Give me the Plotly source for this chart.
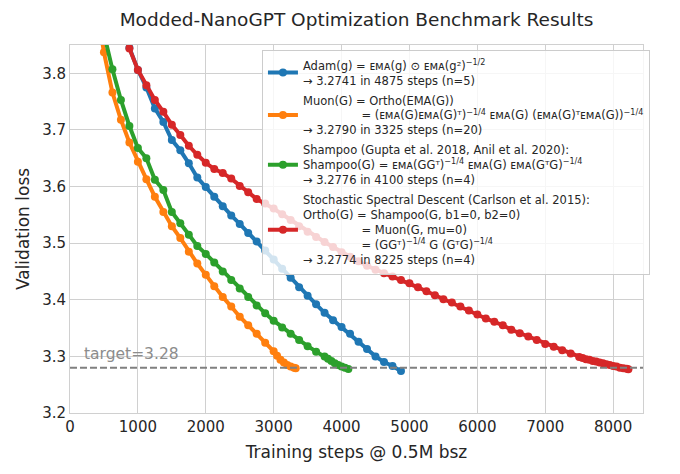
import plotly.graph_objects as go

# eval points (steps, val loss)
adam_steps = [750, 875, 1000, 1125, 1250, 1375, 1500, 1625, 1750, 1875, 2000, 2125, 2250, 2375,
              2500, 2625, 2750, 2875, 3000, 3125, 3250, 3375, 3500, 3625, 3750, 3875, 4000, 4125,
              4250, 4375, 4500, 4625, 4750, 4875]
adam_loss = [3.900, 3.845, 3.806, 3.775, 3.738, 3.714, 3.682, 3.664, 3.641, 3.616, 3.599, 3.582, 3.565, 3.549,
             3.534, 3.518, 3.503, 3.487, 3.471, 3.455, 3.439, 3.422, 3.407, 3.392, 3.377, 3.364, 3.352, 3.340,
             3.326, 3.313, 3.300, 3.290, 3.283, 3.274]

muon_steps = [375, 500, 625, 750, 875, 1000, 1125, 1250, 1375, 1500, 1625, 1750, 1875, 2000,
              2125, 2250, 2375, 2500, 2625, 2750, 2875, 3000, 3050, 3100, 3150, 3200, 3250, 3300, 3325]
muon_loss = [3.930, 3.837, 3.766, 3.718, 3.678, 3.644, 3.613, 3.582, 3.555, 3.530, 3.509, 3.485, 3.464, 3.444,
             3.424, 3.405, 3.388, 3.370, 3.355, 3.340, 3.324, 3.309, 3.301, 3.294, 3.289, 3.285, 3.282, 3.280, 3.279]

shampoo_steps = [500, 625, 750, 875, 1000, 1125, 1250, 1375, 1500, 1625, 1750, 1875, 2000, 2125,
                 2250, 2375, 2500, 2625, 2750, 2875, 3000, 3125, 3250, 3375, 3500, 3625, 3750,
                 3800, 3850, 3900, 3950, 4000, 4050, 4100]
shampoo_loss = [3.870, 3.807, 3.753, 3.707, 3.668, 3.650, 3.612, 3.594, 3.555, 3.535, 3.515, 3.495, 3.481, 3.466,
                3.450, 3.435, 3.420, 3.405, 3.390, 3.376, 3.363, 3.351, 3.340, 3.329, 3.318, 3.308, 3.300,
                3.296, 3.292, 3.288, 3.285, 3.282, 3.280, 3.2776]

ssd_steps = [750, 875, 1000, 1125, 1250, 1375, 1500, 1625, 1750, 1875, 2000, 2125, 2250, 2375, 2500,
             2625, 2750, 2875, 3000, 3125, 3250, 3375, 3500, 3625, 3750, 3875, 4000, 4125, 4250,
             4375, 4500, 4625, 4750, 4875, 5000, 5125, 5250, 5375, 5500, 5625, 5750, 5875, 6000,
             6125, 6250, 6375, 6500, 6625, 6750, 6875, 7000, 7125, 7250, 7375, 7500,
             7550, 7600, 7650, 7700, 7750, 7800, 7850, 7900, 7950, 8000, 8050, 8100, 8150, 8200, 8225]
ssd_loss = [3.890, 3.844, 3.806, 3.779, 3.753, 3.732, 3.709, 3.691, 3.672, 3.656, 3.642, 3.631, 3.624, 3.614, 3.601,
            3.590, 3.578, 3.570, 3.561, 3.551, 3.541, 3.530, 3.520, 3.511, 3.502, 3.493, 3.484, 3.476, 3.468,
            3.460, 3.453, 3.447, 3.441, 3.435, 3.429, 3.422, 3.415, 3.408, 3.401, 3.395, 3.388, 3.381, 3.374,
            3.367, 3.361, 3.355, 3.347, 3.341, 3.335, 3.329, 3.322, 3.317, 3.311, 3.305, 3.299,
            3.297, 3.295, 3.294, 3.292, 3.291, 3.289, 3.288, 3.286, 3.285, 3.283, 3.282, 3.280, 3.279, 3.278, 3.2774]

target = 3.28

E = "\u1d07\u1d0d\u1d00"  # small-caps EMA
pad = "\u00a0" * 16
labels = [
    f"Adam(g) = {E}(g) \u2299 {E}(g\u00b2)<sup>\u22121/2</sup><br>\u2192 3.2741 in 4875 steps (n=5)",
    f"Muon(G) = Ortho(EMA(G))<br>{pad}= ({E}(G){E}(G)\u1d40)<sup>\u22121/4</sup> {E}(G) ({E}(G)\u1d40{E}(G))<sup>\u22121/4</sup>"
    f"<br>\u2192 3.2790 in 3325 steps (n=20)",
    f"Shampoo (Gupta et al. 2018, Anil et al. 2020):<br>Shampoo(G) = {E}(GG\u1d40)<sup>\u22121/4</sup> {E}(G) {E}(G\u1d40G)<sup>\u22121/4</sup>"
    f"<br>\u2192 3.2776 in 4100 steps (n=4)",
    f"Stochastic Spectral Descent (Carlson et al. 2015):<br>Ortho(G) = Shampoo(G, b1=0, b2=0)<br>{pad}= Muon(G, mu=0)"
    f"<br>{pad}= (GG\u1d40)<sup>\u22121/4</sup> G (G\u1d40G)<sup>\u22121/4</sup><br>\u2192 3.2774 in 8225 steps (n=4)",
]
series = [(adam_steps, adam_loss, '#1f77b4'),
          (muon_steps, muon_loss, '#ff7f0e'),
          (shampoo_steps, shampoo_loss, '#2ca02c'),
          (ssd_steps, ssd_loss, '#d62728')]

fig = go.Figure()
for i, ((xs, ys, col), lab) in enumerate(zip(series, labels)):
    fig.add_trace(go.Scatter(x=xs, y=ys, mode='lines+markers', name=lab, legendgroup=str(i),
                             line=dict(color=col, width=4), marker=dict(color=col, size=8)))

fig.add_hline(y=target, line=dict(color='#808080', width=2, dash='7px,3px'))
fig.add_annotation(x=180, y=target, xref='x', yref='y', text='target=3.28', showarrow=False,
                   xanchor='left', yanchor='bottom', yshift=3, font=dict(size=15.5, color='#8c8c8c'))

# page body adds 8px offset, margins compensate
grid = '#d0d0d0'
fig.update_layout(
    width=680, height=474,
    margin=dict(l=62, r=45, t=37, b=69),
    plot_bgcolor='white', paper_bgcolor='white',
    font=dict(family='DejaVu Sans', color='#262626'),
    title=dict(text='Modded-NanoGPT Optimization Benchmark Results', x=0.5, xref='paper', xanchor='center',
               y=0.975, yanchor='middle', font=dict(size=18.5)),
    xaxis=dict(title=dict(text='Training steps @ 0.5M bsz', font=dict(size=17), standoff=11),
               range=[0, 8440], dtick=1000, tick0=0, showgrid=True, gridcolor=grid, gridwidth=1,
               zeroline=False, showline=True, linecolor=grid, mirror=True, tickfont=dict(size=15),
               automargin=False),
    yaxis=dict(title=dict(text='Validation loss', font=dict(size=17), standoff=8),
               range=[3.2, 3.85], dtick=0.1, tick0=3.2, tickformat='.1f', showgrid=True, gridcolor=grid,
               gridwidth=1, zeroline=False, showline=True, linecolor=grid, mirror=True, tickfont=dict(size=15),
               automargin=False),
    legend=dict(x=0.335, y=0.986, xanchor='left', yanchor='top', bgcolor='rgba(255,255,255,0.8)',
                bordercolor='#cccccc', borderwidth=1, font=dict(size=11.5, color='#262626'),
                traceorder='grouped', tracegroupgap=2),
)

fig.write_html("out.html")
